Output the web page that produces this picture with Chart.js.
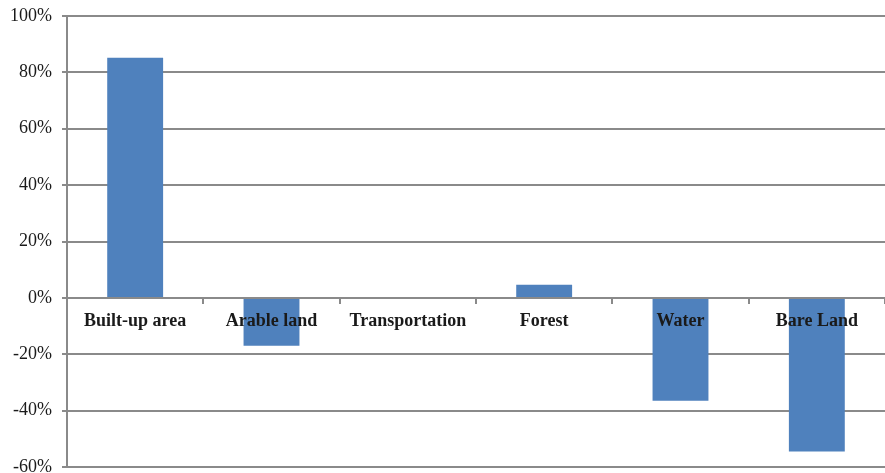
<!DOCTYPE html>
<html>
<head>
<meta charset="utf-8">
<script src="https://cdn.jsdelivr.net/npm/chart.js@4/dist/chart.umd.min.js"></script>
<style>
  html, body { margin: 0; padding: 0; background: #fff; overflow: hidden; }
  #wrap { width: 885px; height: 473px; }
</style>
</head>
<body>
<div id="wrap"><canvas id="landChart"></canvas></div>
<script>
var categories = ['Built-up area', 'Arable land', 'Transportation', 'Forest', 'Water', 'Bare Land'];
var changeValues = [85.2, -17.0, 0, 4.7, -36.5, -54.5];
var yTicks = [-60, -40, -20, 0, 20, 40, 60, 80, 100];

var gridGrey = '#8a8a8a';

var ctx = document.getElementById('landChart');
var chart = new Chart(ctx, {
    type: 'bar',
    data: {
        labels: categories,
        datasets: [{
            data: changeValues,
            backgroundColor: '#4f81bd',
            borderWidth: 0,
            barPercentage: 0.41,
            categoryPercentage: 1.0
        }]
    },
    options: {
        responsive: true,
        maintainAspectRatio: false,
        animation: false,
        layout: { padding: 0 },
        plugins: {
            legend: { display: false },
            tooltip: { enabled: false }
        },
        scales: {
            x: {
                position: { y: 0 },
                offset: true,
                border: { display: true, color: gridGrey, width: 2, z: 1 },
                grid: {
                    offset: true,
                    drawOnChartArea: false,
                    drawTicks: true,
                    tickLength: 5,
                    color: gridGrey,
                    lineWidth: 2
                },
                ticks: {
                    z: 1,
                    padding: 8,
                    color: '#1a1a1a',
                    maxRotation: 0,
                    font: { family: '"Liberation Serif", "Times New Roman", serif', size: 18, weight: 'bold' }
                }
            },
            y: {
                min: -60,
                max: 100,
                afterBuildTicks: function(scale) {
                    scale.ticks = yTicks.map(function(v) { return { value: v }; });
                },
                afterFit: function(scale) {
                    scale.width = 67;
                    scale.paddingTop = 16;
                    scale.paddingBottom = 6;
                },
                border: { display: true, color: gridGrey, width: 2 },
                grid: {
                    color: gridGrey,
                    lineWidth: 2,
                    tickLength: 5
                },
                ticks: {
                    padding: 10,
                    color: '#1a1a1a',
                    font: { family: '"Liberation Serif", "Times New Roman", serif', size: 18 },
                    callback: function(v) { return v + '%'; }
                }
            }
        }
    }
});
</script>
</body>
</html>
